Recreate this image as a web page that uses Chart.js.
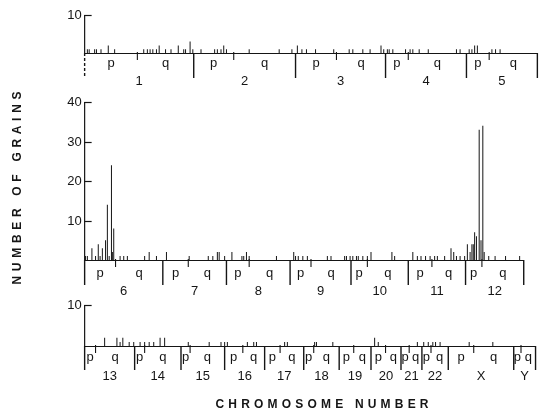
<!DOCTYPE html>
<html>
<head>
<meta charset="utf-8">
<script src="https://cdn.jsdelivr.net/npm/chart.js@4.4.1/dist/chart.umd.min.js"></script>
<style>
body { margin: 0; background: #fff; }
#wrap { position: relative; width: 560px; height: 414px; }
canvas { position: absolute; left: 0; top: 0; }
</style>
</head>
<body>
<div id="wrap">
<canvas id="row1" width="560" height="414"></canvas>
<canvas id="row2" width="560" height="414"></canvas>
<canvas id="row3" width="560" height="414"></canvas>
</div>
<script>
// positions are along each row's genome axis (0 = start of first chromosome)
const names1 = ["1", "2", "3", "4", "5"];
const bounds1 = [0, 120, 232, 331, 420, 498];
const cents1 = [58, 164, 277, 356, 445];
const pos1 = [3, 5, 11, 13, 18, 26, 33, 65, 69, 72, 75, 79, 82, 89, 95, 103, 109, 111, 116, 119, 128,
    143, 146, 150, 153, 156, 181, 214, 228, 234, 239, 244, 254, 274, 291, 295, 306, 314, 326, 329,
    333, 335, 339, 353, 358, 361, 368, 378, 409, 413, 423, 426, 429, 432, 448, 452, 457];
const grains1 = [1, 1, 1, 1, 1, 2, 1, 1, 1, 1, 1, 1, 2, 1, 1, 2, 1, 1, 3, 1, 1,
    1, 1, 1, 2, 1, 1, 1, 1, 2, 1, 1, 1, 1, 1, 1, 1, 1, 2, 1,
    1, 1, 1, 1, 1, 1, 1, 1, 1, 1, 1, 1, 2, 2, 1, 1, 1];

const names2 = ["6", "7", "8", "9", "10", "11", "12"];
const bounds2 = [0, 86, 156, 226, 293, 356, 419, 483];
const cents2 = [34, 114, 181, 249, 311, 382, 437];
const pos2 = [1, 3, 8, 12, 15, 17, 19.5, 23, 25, 27, 29.5, 30.5, 32, 39, 43, 47, 66, 71, 79, 90,
    115, 136, 141, 146, 148, 154, 162, 173, 175, 178, 181, 211, 230, 232, 235, 240, 245, 267, 271,
    286, 288, 292, 295, 299, 301, 306, 311, 315, 338, 341, 361, 366, 370, 375, 380, 385, 388, 396,
    403, 406, 409, 413, 418, 421, 424, 426, 427.5, 429, 431, 434, 436, 438, 439.5, 444.5, 451.5, 463, 478.5];
const grains2 = [1, 1, 3, 1, 4, 1, 3, 5, 14, 1, 24, 2, 8, 1, 1, 1, 1, 2, 1, 2,
    1, 1, 1, 2, 2, 1, 2, 1, 1, 2, 1, 1, 2, 1, 1, 1, 1, 1, 1,
    1, 1, 1, 1, 1, 1, 1, 1, 2, 2, 1, 2, 1, 1, 1, 1, 1, 1, 1,
    3, 2, 1, 1, 1, 4, 2, 4, 4, 7, 6, 33, 5, 34, 2, 1, 1, 1, 1];

const names3 = ["13", "14", "15", "16", "17", "18", "19", "20", "21", "22", "X", "Y"];
const bounds3 = [0, 55, 106, 154, 198, 241, 280, 315, 348, 371, 400, 472, 496];
const cents3 = [12, 66, 116, 174, 215, 252, 296, 331, 357, 381, 428, 480];
const pos3 = [22, 35.5, 39, 42, 49, 54, 61, 66, 71, 76, 83, 88, 114, 137, 150, 154, 157, 179, 186, 189,
    220, 223, 253, 255, 273, 319, 323, 366, 373, 378, 383, 386, 391, 423, 449];
const grains3 = [2, 2, 1, 2, 1, 1, 1, 1, 1, 1, 2, 2, 1, 1, 1, 1, 1, 1, 1, 1,
    1, 1, 1, 1, 1, 2, 1, 1, 1, 1, 1, 1, 1, 1, 1];

const FONT = '"Liberation Sans", Arial, sans-serif';
const INK = '#151515';

function spaced(ctx, text, cx, cy, width) {
    const chars = [...text];
    const w = chars.reduce((s, c) => s + ctx.measureText(c).width, 0);
    const gap = (width - w) / (chars.length - 1);
    let xx = cx - width / 2;
    chars.forEach(c => {
        ctx.fillText(c, xx, cy);
        xx += ctx.measureText(c).width + gap;
    });
}

const karyo = {
    id: 'karyo',
    afterDatasetsDraw(chart, args, o) {
        const { ctx } = chart;
        const x = chart.scales.x, y = chart.scales.y;
        const base = y.getPixelForValue(0);
        const x0 = x.getPixelForValue(0);
        const seg = (a, b, c, d) => { ctx.beginPath(); ctx.moveTo(a, b); ctx.lineTo(c, d); ctx.stroke(); };
        ctx.save();
        ctx.strokeStyle = INK;
        ctx.fillStyle = INK;

        // y axis with inward ticks
        ctx.lineWidth = 1.2;
        seg(x0, y.getPixelForValue(o.ymax), x0, base);
        o.ticks.forEach(t => {
            const ty = Math.round(y.getPixelForValue(t)) + 0.5;
            seg(x0 - 0.5, ty, x0 + 7, ty);
        });
        ctx.font = '13px ' + FONT;
        ctx.textAlign = 'right';
        ctx.textBaseline = 'middle';
        o.ticks.forEach(t => ctx.fillText(String(t), x0 - 3, y.getPixelForValue(t) + 0.5));

        // baseline
        ctx.lineWidth = 1;
        seg(x0, base + 0.5, x.getPixelForValue(o.bounds[o.bounds.length - 1]), base + 0.5);

        // chromosome boundaries
        ctx.lineWidth = 1.4;
        o.bounds.forEach((b, i) => {
            const bx = x.getPixelForValue(b);
            if (bx >= chart.width - 0.5) return;
            if (i === 0 && o.dashed) {
                ctx.setLineDash([3, 2]);
                seg(bx, base, bx, base + o.drop);
                ctx.setLineDash([]);
            } else {
                seg(bx, base, bx, base + o.drop);
            }
        });
        // centromeres
        ctx.lineWidth = 1.1;
        o.cents.forEach(c => {
            const cx = x.getPixelForValue(c);
            seg(cx, base - 1, cx, base + 7);
        });

        // arm and chromosome labels
        ctx.textAlign = 'center';
        ctx.textBaseline = 'alphabetic';
        ctx.font = '13px ' + FONT;
        o.names.forEach((n, i) => {
            const s = o.bounds[i], e = o.bounds[i + 1], c = o.cents[i];
            ctx.fillText('p', x.getPixelForValue((s + c) / 2), base + o.armY);
            ctx.fillText('q', x.getPixelForValue((c + e) / 2), base + o.armY);
            ctx.fillText(n, x.getPixelForValue((s + e) / 2), base + o.numY);
        });
        ctx.restore();
    }
};

const titles = {
    id: 'titles',
    afterDraw(chart) {
        const { ctx } = chart;
        ctx.save();
        ctx.fillStyle = INK;
        ctx.font = 'bold 12px ' + FONT;
        ctx.textAlign = 'left';
        ctx.textBaseline = 'middle';
        spaced(ctx, 'CHROMOSOME NUMBER', 322, 405, 213);
        ctx.translate(18, 188);
        ctx.rotate(-Math.PI / 2);
        spaced(ctx, 'NUMBER OF GRAINS', 0, 0, 193);
        ctx.restore();
    }
};

function panel(id, pos, grains, top, base, k, extra) {
    return new Chart(document.getElementById(id), {
        type: 'bar',
        data: {
            datasets: [{
                data: pos.map((p, i) => ({ x: p, y: grains[i] })),
                backgroundColor: INK,
                barThickness: 1,
                inflateAmount: 0,
                grouped: false
            }]
        },
        options: {
            responsive: false,
            animation: false,
            events: [],
            layout: { padding: { left: 62, right: 0, top: top, bottom: 414 - base } },
            plugins: { legend: { display: false }, tooltip: { enabled: false }, karyo: k },
            scales: {
                x: { type: 'linear', display: false, min: 0, max: 498 },
                y: { display: false, min: 0, max: k.ymax }
            }
        },
        plugins: extra ? [karyo, extra] : [karyo]
    });
}

panel('row1', pos1, grains1, 15, 53,
    { ymax: 10, ticks: [10], names: names1, bounds: bounds1, cents: cents1, drop: 25, dashed: true, armY: 14, numY: 32 });
panel('row2', pos2, grains2, 102, 260,
    { ymax: 40, ticks: [10, 20, 30, 40], names: names2, bounds: bounds2, cents: cents2, drop: 25, dashed: false, armY: 17, numY: 35 });
panel('row3', pos3, grains3, 305, 346,
    { ymax: 10, ticks: [10], names: names3, bounds: bounds3, cents: cents3, drop: 24, dashed: false, armY: 15, numY: 34 }, titles);
</script>
</body>
</html>
